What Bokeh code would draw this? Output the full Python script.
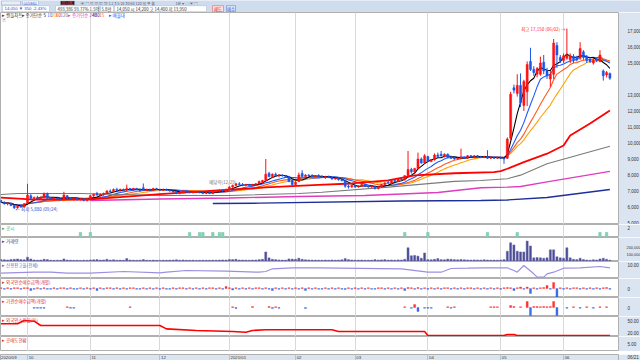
import pandas as pd
from bokeh.plotting import figure
from bokeh.layouts import column
from bokeh.models import Range1d, FixedTicker, Label, NumeralTickFormatter, ColumnDataSource
from bokeh.embed import file_html
from bokeh.resources import INLINE

KR = "Noto Sans CJK KR"
NUM = "Liberation Sans"

# ---------------- data ----------------
opens = [6400,6300,6200,6250,6100,5950,6050,6000,
 6250,6700,6550,6600,6500,6600,6850,6550,6500,6550,6500,6450,6700,6550,6500,6550,6450,6500,6400,
 6500,6700,6850,6750,6800,6850,7000,6950,7100,7050,7100,7050,7150,7100,7150,7100,7200,7050,7100,7050,7150,
 7100,7050,7100,7050,7000,6950,6850,6900,7000,6950,6900,6950,6950,6900,6850,6900,6850,6950,7000,7050,7000,
 7100,7250,7350,7450,7400,7350,7400,7350,7400,7450,7550,7650,8100,7900,8050,7950,8000,7950,7900,7650,
 7400,7600,8100,7900,8000,7950,7900,7950,7900,7850,7900,7850,7750,7800,7700,7650,7300,7250,
 7350,7250,7300,7400,7300,7250,7300,7150,7250,7400,7550,7500,7650,7600,7750,7700,7950,8350,8200,8400,9000,8750,
 9150,8850,8950,9250,9300,9200,9300,9100,9100,9000,9050,9100,9050,9200,9150,9200,9150,9100,9150,9050,9100,9050,
 9100,9050,9050,10300,13450,13100,13600,12350,13200,15100,14600,14300,14300,15050,14500,14000,14300,16100,15350,
 15150,15300,15200,15400,15350,15300,15700,15400,15250,15000,15250,15100,14500,14250,14350]
highs = [6450,6350,6300,6280,6150,6100,6150,6250,
 7450,6800,6650,6700,6650,6900,6900,6600,6600,6600,6550,6950,6750,6600,6600,6600,6550,6550,6550,
 6750,6850,6950,6850,6900,7050,7100,7150,7200,7150,7150,7400,7200,7200,7200,7150,7470,7150,7150,7200,7200,
 7150,7150,7150,7100,7050,7000,6950,7050,7050,7000,7000,7000,7000,6950,6950,6950,7000,7050,7100,7100,7150,
 7300,7400,7500,7550,7500,7450,7450,7450,7500,7650,7700,9000,8200,8100,8150,8050,8050,8000,7950,7700,
 7600,8150,8300,8050,8050,8050,8000,8050,8000,7950,7950,7900,7850,7850,7750,7700,7400,7400,
 7400,7350,7450,7450,7350,7350,7350,7300,7450,7550,7650,7700,7750,7800,7850,8000,9500,8450,8450,9400,9100,9300,
 9200,9000,9350,9400,9500,9350,9350,9200,9150,9100,9650,9150,9250,9250,9250,9250,9200,9200,9550,9150,9150,9150,
 9150,9100,10350,13200,13650,14300,14350,13950,15100,15950,14800,14750,15400,15500,14700,14500,16500,16300,15500,
 15600,17150,15600,15550,15450,16300,15800,15500,15350,15300,15350,15800,14600,14500,14400]
lows = [6250,6150,6100,6050,5880,5900,5950,5980,
 6200,6500,6450,6500,6450,6550,6500,6450,6450,6450,6400,6400,6500,6450,6400,6400,6400,6350,6350,
 6450,6600,6700,6650,6700,6800,6900,6900,7000,6950,7000,7000,7050,7000,7050,6950,7000,7000,7000,7000,7050,
 7000,7000,7000,6950,6900,6800,6800,6850,6900,6850,6850,6900,6850,6800,6800,6800,6800,6900,6950,6950,6950,
 7050,7200,7300,7350,7300,7300,7300,7300,7350,7400,7450,7600,7850,7800,7900,7850,7900,7850,7550,7300,
 7350,7550,7850,7850,7900,7850,7850,7850,7800,7750,7800,7700,7700,7650,7600,7200,7150,7200,
 7200,7200,7250,7250,7200,7200,7100,7100,7200,7350,7450,7450,7550,7550,7650,7650,7900,8100,8150,8350,8700,8700,
 8800,8800,8900,9100,9150,9100,9050,9000,8950,8950,9000,9000,9000,9100,9050,9100,9050,9050,9000,9000,9000,9000,
 9000,8700,9000,10200,13100,12900,12250,12000,12300,14500,14200,14100,14200,14300,14000,13500,14000,14700,15000,
 15000,15200,15000,15000,15100,15200,15200,15000,15000,14900,15050,15050,13900,14100,13950]
closes = [6300,6200,6250,6100,5950,6050,6000,6200,
 6750,6550,6600,6550,6600,6850,6550,6500,6550,6500,6450,6750,6550,6500,6550,6450,6500,6400,6500,
 6700,6800,6750,6800,6850,7000,6950,7100,7050,7100,7050,7150,7100,7150,7100,7000,7050,7100,7050,7150,7100,
 7050,7100,7050,7000,6950,6850,6900,7000,6950,6900,6950,6950,6900,6850,6900,6850,6950,7000,7050,7000,7100,
 7250,7350,7450,7400,7350,7400,7350,7400,7450,7600,7650,8050,7900,8050,7950,8000,7950,7900,7600,7400,
 7550,8000,7900,8000,7950,7900,7950,7900,7850,7900,7850,7750,7800,7700,7650,7300,7250,7350,
 7250,7300,7400,7300,7250,7300,7150,7250,7400,7500,7500,7650,7600,7750,7700,7950,8350,8200,8400,9000,8750,9200,
 8850,8950,9250,9150,9200,9300,9100,9050,9000,9050,9100,9050,9200,9150,9200,9150,9100,9150,9050,9100,9050,9100,
 9050,9000,10250,13050,13300,13600,12500,13850,14900,14600,14400,14650,15000,14500,14200,14300,16250,15500,15150,
 15450,15500,15450,15200,15200,15900,15350,15150,15100,15200,15150,15500,14200,14400,14050]
volumes = [20000,18000,15000,22000,25000,30000,20000,18000,
 55000,30000,15000,12000,14000,25000,20000,12000,10000,12000,10000,30000,15000,12000,10000,11000,9000,12000,10000,
 15000,18000,20000,14000,16000,25000,14000,18000,12000,13000,12000,35000,14000,12000,11000,12000,20000,12000,11000,13000,10000,
 10000,12000,11000,13000,14000,18000,12000,15000,11000,10000,12000,9000,10000,12000,11000,10000,13000,12000,14000,16000,14000,
 22000,20000,25000,15000,14000,13000,12000,14000,15000,20000,25000,130000,45000,25000,20000,15000,14000,13000,30000,28000,
 25000,40000,25000,18000,15000,14000,13000,12000,12000,14000,12000,15000,12000,13000,18000,35000,20000,15000,
 14000,13000,15000,12000,12000,13000,20000,14000,16000,20000,14000,15000,13000,16000,14000,25000,190000,75000,80000,70000,40000,115000,
 20000,18000,25000,35000,20000,18000,28000,25000,20000,18000,22000,18000,15000,14000,16000,15000,14000,18000,15000,13000,14000,12000,
 15000,20000,140000,260000,230000,140000,130000,130000,285000,215000,45000,50000,45000,40000,45000,160000,160000,60000,45000,
 40000,190000,45000,25000,20000,40000,20000,15000,12000,18000,15000,30000,40000,25000,12000]

# slow moving averages (index, value)
ma60_idx = [0, 9, 27, 48, 69, 80, 96, 106, 117, 125, 137, 149, 151, 153, 158, 165, 170, 172, 178, 184]
ma60_val = [6590, 6470, 6470, 6810, 7090, 7220, 7380, 7470, 7660, 7970, 8110, 8180, 8240, 8390, 8800, 9330, 9840, 10470, 11220, 12030]
ma120_idx = [0, 5, 24, 48, 69, 90, 97, 117, 137, 145, 153, 157, 165, 184]
ma120_val = [6780, 6840, 6840, 6720, 6720, 6840, 6925, 7240, 7600, 7660, 7770, 7990, 8700, 9800]
ma240_idx = [27, 48, 69, 90, 110, 132, 145, 153, 157, 165, 184]
ma240_val = [6410, 6500, 6560, 6660, 6720, 6910, 7200, 7240, 7280, 7570, 8230]
ma480_idx = [64, 78, 121, 145, 153, 165, 184]
ma480_val = [6220, 6240, 6375, 6406, 6440, 6590, 7090]

# disclosures
disc_idx = [24, 27, 57, 60, 61, 64, 66, 67, 122, 129, 147, 156, 181, 183]
disc_val = [1] * len(disc_idx)

# credit balance ratio
credit_idx = [0, 10, 15, 20, 27, 37, 48, 50, 56, 68, 78, 80, 82, 88, 96, 121, 129, 133, 136, 141, 146, 153,
              155, 156, 158, 161, 162, 164, 165, 167, 170, 175, 181, 184]
credit_val = [5.65, 6.15, 6.15, 5.65, 5.65, 6.5, 5.85, 6.15, 7.0, 6.65, 6.15, 6.5, 7.85, 8.35, 8.35, 7.85, 6.15, 6.15,
              8.0, 8.15, 8.35, 8.35, 7.0, 6.15, 9.5, 5.35, 3.65, 3.65, 5.35, 6.15, 8.15, 8.35, 9.0, 8.35]

# foreign net buying (every day)
foreign = [0.8,-0.8,0.8,-0.8,0.8,0.8,-0.8,0.8,
 0.8,-2,-0.8,0.8,-0.8,0.8,-0.8,-0.8,0.8,-0.8,0.8,0.8,-0.8,0.8,-0.8,-0.8,0.8,-0.8,0.8,
 -0.8,0.8,-2,0.8,-0.8,0.8,0.8,-0.8,0.8,-0.8,0.8,-0.8,0.8,0.8,-0.8,-0.8,0.8,-0.8,0.8,-0.8,0.8,
 -0.8,0.8,-0.8,-0.8,0.8,-0.8,0.8,0.8,-0.8,0.8,-0.8,0.8,-0.8,0.8,-0.8,0.8,0.8,-0.8,0.8,-0.8,2,
 0.8,-1.5,0.8,-0.8,0.8,-0.8,0.8,-0.8,0.8,0.8,-0.8,0.8,-0.8,-2,0.8,-0.8,0.8,-0.8,0.8,-0.8,
 0.8,-0.8,0.8,-2,0.8,-0.8,0.8,-0.8,-0.8,0.8,-0.8,0.8,-0.8,0.8,-0.8,-1,0.8,-0.8,
 0.8,-0.8,0.8,-0.8,0.8,-0.8,-0.8,0.8,0.8,-0.8,0.8,-0.8,0.8,-0.8,0.8,-2,1,0.8,-0.8,1,-0.8,0.8,
 -0.8,0.8,-0.8,0.8,-0.8,0.8,0.8,-0.8,0.8,-0.8,0.8,-0.8,0.8,0.8,-0.8,0.8,-0.8,0.8,-0.8,0.8,-0.8,0.8,
 -0.8,0.8,1,0.8,-2,0.8,1.5,-0.8,1.5,-5,0.8,-0.8,0.8,1,3,-0.8,6,-8.7,0.8,
 -0.8,0.8,-0.8,0.8,0.8,-0.8,0.8,-0.8,0.8,-0.8,0.8,-0.8,0.8,1,-0.8]

# institutional net buying (sparse)
inst_idx = [10,11,12,13,20,21,22,39,70,71,76,81,82,83,84,92,122,124,125,126,128,129,130,135,136,137,148,149,150,
            154,155,157,159,160,161,162,163,164,165,166,167,168,171,173,175,177,179,181,183]
inst_val = [-0.8,-0.8,-0.8,-0.8,0.8,-0.8,-0.8,0.8,0.8,-1,1,1,-1,0.8,-0.8,-1,0.8,-0.8,3,-4,-0.8,-0.8,-0.8,0.8,-0.8,0.8,
            0.8,0.8,0.8,2,1,0.8,6,-8,1,1,0.8,1,0.8,1,6,-8,-0.8,0.8,-0.8,0.8,-0.8,0.8,0.8]

# foreign ownership ratio
own_idx = [0, 5, 7, 10, 12, 48, 50, 59, 70, 74, 76, 80, 100, 102, 128, 129, 152, 153, 155, 156, 184]
own_val = [41.7, 41.7, 50, 48.3, 37.5, 37.5, 29, 25, 22.5, 20.8, 25, 26.7, 26.7, 22.5, 22.5, 12.5, 12.5, 15, 15, 12.5, 12.5]

month_idx = [8, 27, 48, 69, 89, 107, 129, 151, 170]
month_lbl = ["10", "11", "12", "2021/01", "02", "03", "04", "05", "06"]
first_lbl = "2020/09"
last_lbl = "06/21"

ma_fast = [5, 10, 15, 20]
ma_fast_col = ["#000000", "#1f5cff", "#ff5a1a", "#ffa000"]

# ---------------- styling ----------------
UP = "#ff1010"
DN = "#1b56e6"
RB = "#dbe5f2"
GRID = "#d9d9d9"
xr = Range1d(-0.16, 186.6)


def make(h, yr, ticks, fmt, bottom=0, overrides=None, fsize="4.5px", standoff=3):
    p = figure(frame_width=618, frame_height=h, x_range=xr, y_range=yr,
               output_backend="svg", toolbar_location=None,
               x_axis_location=None, y_axis_location="right",
               min_border_left=0, min_border_right=22, min_border_top=0, min_border_bottom=bottom,
               background_fill_color="white", border_fill_color=RB, outline_line_color="#b0b0b0")
    ax = p.yaxis[0]
    ax.ticker = FixedTicker(ticks=ticks)
    ax.formatter = NumeralTickFormatter(format=fmt)
    if overrides:
        ax.major_label_overrides = overrides
    ax.axis_line_color = None
    ax.major_tick_line_color = None
    ax.minor_tick_line_color = None
    ax.major_label_text_font_size = fsize
    ax.major_label_text_font = NUM
    ax.major_label_text_color = "#333333"
    ax.major_label_standoff = standoff
    p.xgrid.ticker = FixedTicker(ticks=month_idx)
    p.xgrid.grid_line_color = GRID
    p.ygrid.grid_line_color = None
    return p


def lab(p, x, y, text, color, size="4.5px", align="left", base="middle", font=KR, **kw):
    p.add_layout(Label(x=x, y=y, text=text, text_color=color, text_font_size=size,
                       text_align=align, text_baseline=base, text_font=font, **kw))


def title(p, h, text, color):
    yr = p.y_range
    lab(p, 0.3, yr.end - 3.0 * (yr.end - yr.start) / h, text, color)


idx = list(range(len(closes)))
cols = [UP if c >= o else DN for o, c in zip(opens, closes)]

# ---------------- header ----------------
hd = figure(frame_width=640, frame_height=12, x_range=Range1d(0, 640), y_range=Range1d(12, 0),
            output_backend="svg", toolbar_location=None, x_axis_location=None, y_axis_location=None,
            min_border=0, background_fill_color="#cfdcee", border_fill_color="#cfdcee", outline_line_color=None)
hd.grid.visible = False
hd.quad(left=[1, 22, 60], right=[20, 38, 74], top=[0.4, 0.4, 0.4], bottom=[4.4, 4.4, 4.4],
        fill_color=["#e9eef6", "white", "#202020"], line_color="#8da2c0", line_width=0.5)
hd.quad(left=[2, 55, 100, 114, 212, 226], right=[49, 98, 113, 206, 223, 235],
        top=[5.2] * 6, bottom=[11.2] * 6,
        fill_color=["white", "white", "white", "white", "#fde3e3", "#e2ebfb"],
        line_color=["#a9b8cf", "#a9b8cf", "#a9b8cf", "#a9b8cf", "#e05050", "#5070d0"], line_width=0.5)
lab(hd, 23, 2.5, "005860", "#1f4fd0", size="4px", font=NUM)
lab(hd, 61, 2.5, "유니켐", "#ff4040", size="4px")
lab(hd, 80, 2.5, "▣ ▤ ▥ ▦ ▧ ▨   1  2  3  5  10  30  60  120  일  주  월", "#50607a", size="3.8px")
lab(hd, 175, 2.5, "1분 ▾  ◇ ▣ ▤", "#50607a", size="3.8px")
lab(hd, 4, 8.3, "14,050 ▼ 350  -2.43%", "#1f4fd0", size="4.3px", font=NUM)
lab(hd, 57, 8.3, "493,386  93.77%  1.5억", "#333333", size="4.3px")
lab(hd, 101, 8.3, "5.8만", "#333333", size="4.3px")
lab(hd, 116, 8.3, "14,050  시 14,200  고 14,400  저 13,950", "#333333", size="4.3px")
lab(hd, 217.5, 8.3, "매도", "#e02020", size="4.3px", align="center")
lab(hd, 230.5, 8.3, "매수", "#2050d0", size="4.3px", align="center")

# ---------------- main price panel ----------------
main = make(212, Range1d(4906, 18156),
            [5000, 6000, 7000, 8000, 9000, 10000, 11000, 12000, 13000, 15000, 16000, 17000], "0,0")
cs = pd.Series(closes, dtype=float)
for n, c in zip(reversed(ma_fast), reversed(ma_fast_col)):
    main.line(idx, cs.rolling(n, min_periods=1).mean().tolist(), line_color=c, line_width=1.1)
main.line(ma480_idx, ma480_val, line_color="#1f2f9a", line_width=1.4)
main.line(ma240_idx, ma240_val, line_color="#e03cc0", line_width=1.4)
main.line(ma120_idx, ma120_val, line_color="#7a7a7a", line_width=1.1)
main.line(ma60_idx, ma60_val, line_color="#ff0000", line_width=1.8)
src = ColumnDataSource(dict(x=idx, o=opens, h=highs, l=lows, c=closes, col=cols,
                            top=[max(o, c) for o, c in zip(opens, closes)],
                            bot=[min(o, c) for o, c in zip(opens, closes)]))
main.segment(x0="x", y0="h", x1="x", y1="l", line_color="col", line_width=1, source=src)
main.vbar(x="x", top="top", bottom="bot", width=0.62, fill_color="col", line_color="col",
          line_width=0.5, source=src)

legend_items = [(0.3, "▸ 캔들차트", "#333333"), (6.2, "▸ 종가단순", "#333333"), (12.8, "5", "#000000"),
                (14.0, "10", "#1f5cff"), (15.3, "20", "#ffa000"), (16.6, "60", "#ff0000"),
                (18.0, "120", "#7a7a7a"), (20.2, "▸ 종가단순 240", "#e03cc0"), (27.6, "480", "#1f2f9a"),
                (29.7, "15", "#ff5a1a"), (32.5, "▸ 매물대", "#1f5cff")]
for x, t, c in legend_items:
    lab(main, x, 18000, t, c)
lab(main, 0.3, 17700, "▣", "#9a9a9a", size="4px")
lab(main, 4.4, 5880, "← 최저 5,880 (09/24)", "#2050d0", font=KR)
lab(main, 170.6, 17150, "최고 17,150 (06/02) →", "#ff2020", align="right")
lab(main, 67, 7540, "배당락(12/29)", "#777777", align="center")
lab(main, 187.0, 14050, "14,050", "white", size="4.5px", font=NUM,
    background_fill_color="#1f4fd0", padding=1)
lab(main, 187.0, 13620, "-2.43%", "#1f4fd0", size="4.3px", font=NUM)
lab(main, 187.0, 18000, "▲ 17,150", "#ff3030", size="3.8px", font=NUM)
lab(main, 187.0, 17720, "▼ 5,880", "#3060e0", size="3.8px", font=NUM)

# ---------------- disclosures ----------------
p1 = make(13, Range1d(0, 2.6), [2], "0")
p1.vbar(x=disc_idx, top=disc_val, bottom=0, width=0.75, fill_color="#86d2b4", line_color="#6cc4a2", line_width=0.5)
title(p1, 13, "▸ 공시", "#3aa67c")

# ---------------- volume ----------------
p2 = make(24, Range1d(-7000, 335700), [100000, 200000], "0,0", fsize="3.9px", standoff=2)
p2.vbar(x=idx, top=volumes, bottom=0, width=0.62, fill_color="#4a4a92", line_color="#6a6ab0", line_width=0.5)
title(p2, 24, "▸ 거래량", "#404080")

# ---------------- credit ratio ----------------
p3 = make(17, Range1d(3.0, 11.5), [10], "0.00")
p3.line(credit_idx, credit_val, line_color="#9c8fe0", line_width=1.2)
title(p3, 17, "▸ 신용잔고율(전체)", "#7060c0")

# ---------------- foreign net ----------------
p4 = make(19, Range1d(-9, 10), [0], "0")
fcol = [UP if v > 0 else DN for v in foreign]
p4.vbar(x=idx, top=foreign, bottom=0, width=0.62, fill_color=fcol, line_color=fcol, line_width=0.3, fill_alpha=0.85)
title(p4, 19, "▸ 외국인순매수금액(개별)", "#e03030")

# ---------------- institutional net ----------------
p5 = make(19, Range1d(-9, 10), [0], "0")
icol = [UP if v > 0 else DN for v in inst_val]
p5.vbar(x=inst_idx, top=inst_val, bottom=0, width=0.62, fill_color=icol, line_color=icol, line_width=0.3, fill_alpha=0.85)
title(p5, 19, "▸ 기관순매수금액(개별)", "#e03030")

# ---------------- foreign ownership ----------------
p6 = make(20, Range1d(10, 60), [20, 50], "0.00")
p6.line(own_idx, own_val, line_color="#ff0000", line_width=1.6)
title(p6, 20, "▸ 외국인소진율(%)", "#e03030")

# ---------------- short selling ----------------
p7 = make(15, Range1d(0, 10), [5], "0.00")
title(p7, 15, "▸ 공매도현황", "#e03030")

# ---------------- date band ----------------
band = make(6, Range1d(0, 1), [0.5], "0", bottom=3, overrides={0.5: last_lbl})
band.background_fill_color = RB
band.xgrid.grid_line_color = "#b8c4d6"
lab(band, 0.0, 0.5, first_lbl, "#333333", size="4.3px", font=NUM)
for m, t in zip(month_idx, month_lbl):
    lab(band, m + 0.35, 0.5, t, "#333333", size="4.3px", font=NUM)

layout = column(hd, main, p1, p2, p3, p4, p5, p6, p7, band, spacing=0)
open("out.html", "w").write(file_html(layout, INLINE))
